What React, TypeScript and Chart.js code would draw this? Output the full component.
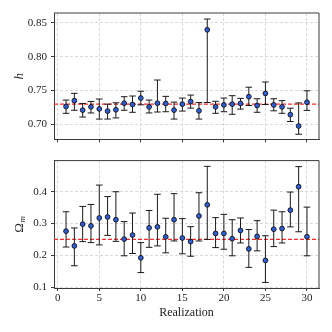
import React, { useEffect, useRef } from "react";
import { Chart, registerables } from "chart.js";

Chart.register(...registerables);

// ---------------- data ----------------
const realizations = [
  1, 2, 3, 4, 5, 6, 7, 8, 9, 10, 11, 12, 13, 14, 15,
  16, 17, 18, 19, 20, 21, 22, 23, 24, 25, 26, 27, 28, 29, 30,
];

const hValues = [
  0.7266, 0.7352, 0.7212, 0.726, 0.723, 0.7198, 0.7217, 0.7314, 0.7295, 0.739,
  0.726, 0.7314, 0.731, 0.7212, 0.73, 0.7338, 0.7202, 0.8397, 0.726, 0.7289,
  0.73, 0.731, 0.741, 0.728, 0.7458, 0.7289, 0.726, 0.7145, 0.6977, 0.7328,
];
const hLower = [
  0.7165, 0.721, 0.711, 0.717, 0.708, 0.708, 0.7097, 0.721, 0.718, 0.729,
  0.717, 0.7184, 0.7188, 0.708, 0.7198, 0.7241, 0.708, 0.7324, 0.7165, 0.7188,
  0.715, 0.7227, 0.728, 0.718, 0.7295, 0.7202, 0.7165, 0.7044, 0.6856, 0.7208,
];
const hUpper = [
  0.736, 0.746, 0.731, 0.734, 0.7376, 0.73, 0.732, 0.741, 0.742, 0.749,
  0.736, 0.7656, 0.7415, 0.733, 0.739, 0.7434, 0.7324, 0.8556, 0.7342, 0.739,
  0.7425, 0.7386, 0.755, 0.738, 0.7627, 0.738, 0.7352, 0.724, 0.7318, 0.7497,
];

const omValues = [
  0.276, 0.2295, 0.298, 0.2925, 0.3174, 0.3205, 0.312, 0.251, 0.2636, 0.192,
  0.2863, 0.2894, 0.258, 0.312, 0.2543, 0.243, 0.3236, 0.3588, 0.2687, 0.2687,
  0.2522, 0.278, 0.2201, 0.2594, 0.1838, 0.282, 0.284, 0.342, 0.4158, 0.2584,
];
const omLower = [
  0.226, 0.167, 0.243, 0.2398, 0.2326, 0.2625, 0.2438, 0.1984, 0.2056, 0.1455,
  0.225, 0.2295, 0.2077, 0.245, 0.2046, 0.197, 0.245, 0.25, 0.2242, 0.219,
  0.1984, 0.2388, 0.162, 0.214, 0.1145, 0.2273, 0.2388, 0.2894, 0.274, 0.1984,
];
const omUpper = [
  0.337, 0.286, 0.3537, 0.36, 0.421, 0.3848, 0.4, 0.306, 0.333, 0.2398,
  0.341, 0.392, 0.3165, 0.394, 0.3153, 0.29, 0.397, 0.48, 0.3185, 0.3288,
  0.312, 0.3174, 0.281, 0.309, 0.2615, 0.342, 0.337, 0.399, 0.479, 0.3516,
];

const hTrue = 0.73;
const omTrue = 0.25;

const xRange = [-0.45, 31.45];
const hRange = [0.678, 0.8645];
const omRange = [0.097, 0.498];
const xStep = 5;
const hStep = 0.05;
const omStep = 0.1;

const xTitle = "Realization";

// ---------------- styling ----------------
const FONT = "'Liberation Serif', 'Times New Roman', serif";
const TEXT = "#222";
const GRID = "#cfcfcf";
const SPINE = "#3a3a3a";
const MARK = "#2d5ed8";

const framePlugin = {
  id: "frameAndYLabel",
  afterDraw(chart: any) {
    const { ctx, chartArea: a } = chart;
    const o = chart.options.plugins.frameAndYLabel || {};
    ctx.save();
    ctx.strokeStyle = SPINE;
    ctx.lineWidth = 1;
    ctx.beginPath();
    ctx.moveTo(a.left, a.top);
    ctx.lineTo(a.right, a.top);
    ctx.lineTo(a.right, a.bottom);
    ctx.stroke();
    // y title
    const cy = (a.top + a.bottom) / 2;
    ctx.translate(o.x ?? 20, cy);
    ctx.rotate(-Math.PI / 2);
    ctx.fillStyle = TEXT;
    ctx.textBaseline = "middle";
    ctx.textAlign = "left";
    const mainFont = `${o.italic ? "italic " : ""}13px ${FONT}`;
    const subFont = `italic 9px ${FONT}`;
    ctx.font = mainFont;
    const w1 = ctx.measureText(o.text || "").width;
    let w2 = 0;
    if (o.sub) {
      ctx.font = subFont;
      w2 = ctx.measureText(o.sub).width + 0.5;
    }
    const start = -(w1 + w2) / 2;
    ctx.font = mainFont;
    ctx.fillText(o.text || "", start, 0);
    if (o.sub) {
      ctx.font = subFont;
      ctx.fillText(o.sub, start + w1 + 0.5, 3);
    }
    ctx.restore();
  },
};

function buildConfig(
  values: number[],
  lower: number[],
  upper: number[],
  truth: number,
  yRange: number[],
  yStep: number,
  decimals: number,
  bottom: boolean,
  label: { text: string; sub?: string; italic?: boolean }
): any {
  const pts = realizations.map((x, i) => ({ x, y: values[i] }));
  const bars: any[] = [];
  realizations.forEach((x, i) => {
    bars.push({ x, y: lower[i] });
    bars.push({ x, y: upper[i] });
    bars.push({ x, y: null });
  });
  const caps = [
    ...realizations.map((x, i) => ({ x, y: lower[i] })),
    ...realizations.map((x, i) => ({ x, y: upper[i] })),
  ];
  const truthLine = [
    { x: xRange[0], y: truth },
    { x: xRange[1], y: truth },
  ];
  return {
    type: "scatter",
    data: {
      datasets: [
        {
          type: "scatter",
          data: pts,
          order: 0,
          pointRadius: 2.4,
          pointBackgroundColor: MARK,
          pointBorderColor: "#111",
          pointBorderWidth: 0.9,
        },
        {
          type: "scatter",
          data: caps,
          order: 1,
          pointStyle: "line",
          pointRadius: 3.3,
          pointBorderColor: "#1a1a1a",
          pointBorderWidth: 1,
        },
        {
          type: "line",
          data: bars,
          order: 2,
          spanGaps: false,
          borderColor: "#1a1a1a",
          borderWidth: 1,
          pointRadius: 0,
          tension: 0,
        },
        {
          type: "line",
          data: truthLine,
          order: 3,
          borderColor: "#ff2a2a",
          borderWidth: 1.2,
          borderDash: [4, 2],
          pointRadius: 0,
        },
      ],
    },
    options: {
      animation: false,
      responsive: false,
      devicePixelRatio: 1,
      events: [],
      layout: { padding: { left: 0, right: 13, top: bottom ? 8 : 13, bottom: 0 } },
      plugins: {
        legend: { display: false },
        tooltip: { enabled: false },
        frameAndYLabel: { ...label, x: 20 },
      },
      scales: {
        x: {
          type: "linear",
          min: xRange[0],
          max: xRange[1],
          ticks: {
            stepSize: xStep,
            includeBounds: false,
            display: bottom,
            color: TEXT,
            padding: 1,
            maxRotation: 0,
            font: { family: FONT, size: 11 },
            callback: (v: number) => String(Math.round(v)),
          },
          grid: {
            color: GRID,
            lineWidth: 0.8,
            drawTicks: true,
            tickLength: 3,
            tickColor: SPINE,
            tickWidth: 1,
          },
          border: { display: true, color: SPINE, width: 1, dash: [3, 2] },
          title: {
            display: bottom,
            text: xTitle,
            color: TEXT,
            font: { family: FONT, size: 12 },
            padding: { top: 0, bottom: 12 },
          },
          afterFit: (s: any) => {
            s.height = bottom ? 44 : 8;
          },
        },
        y: {
          type: "linear",
          min: yRange[0],
          max: yRange[1],
          ticks: {
            stepSize: yStep,
            includeBounds: false,
            color: TEXT,
            padding: 4,
            font: { family: FONT, size: 11 },
            callback: (v: number) => Number(v).toFixed(decimals),
          },
          grid: {
            color: GRID,
            lineWidth: 0.8,
            drawTicks: true,
            tickLength: 3,
            tickColor: SPINE,
            tickWidth: 1,
          },
          border: { display: true, color: SPINE, width: 1, dash: [3, 2] },
          afterFit: (s: any) => {
            s.width = 54;
          },
        },
      },
    },
    plugins: [framePlugin],
  };
}

export default function App() {
  const topRef = useRef<HTMLCanvasElement>(null);
  const botRef = useRef<HTMLCanvasElement>(null);

  useEffect(() => {
    const c1 = new Chart(
      topRef.current as HTMLCanvasElement,
      buildConfig(hValues, hLower, hUpper, hTrue, hRange, hStep, 2, false, {
        text: "h",
        italic: true,
      })
    );
    const c2 = new Chart(
      botRef.current as HTMLCanvasElement,
      buildConfig(omValues, omLower, omUpper, omTrue, omRange, omStep, 1, true, {
        text: "Ω",
        sub: "m",
      })
    );
    return () => {
      c1.destroy();
      c2.destroy();
    };
  }, []);

  return (
    <div
      style={{
        position: "absolute",
        left: 0,
        top: 0,
        width: 332,
        height: 332,
        background: "#fff",
      }}
    >
      <canvas
        ref={topRef}
        width={332}
        height={150}
        style={{ position: "absolute", left: 0, top: 0, width: 332, height: 150 }}
      />
      <canvas
        ref={botRef}
        width={332}
        height={182}
        style={{ position: "absolute", left: 0, top: 150, width: 332, height: 182 }}
      />
    </div>
  );
}
